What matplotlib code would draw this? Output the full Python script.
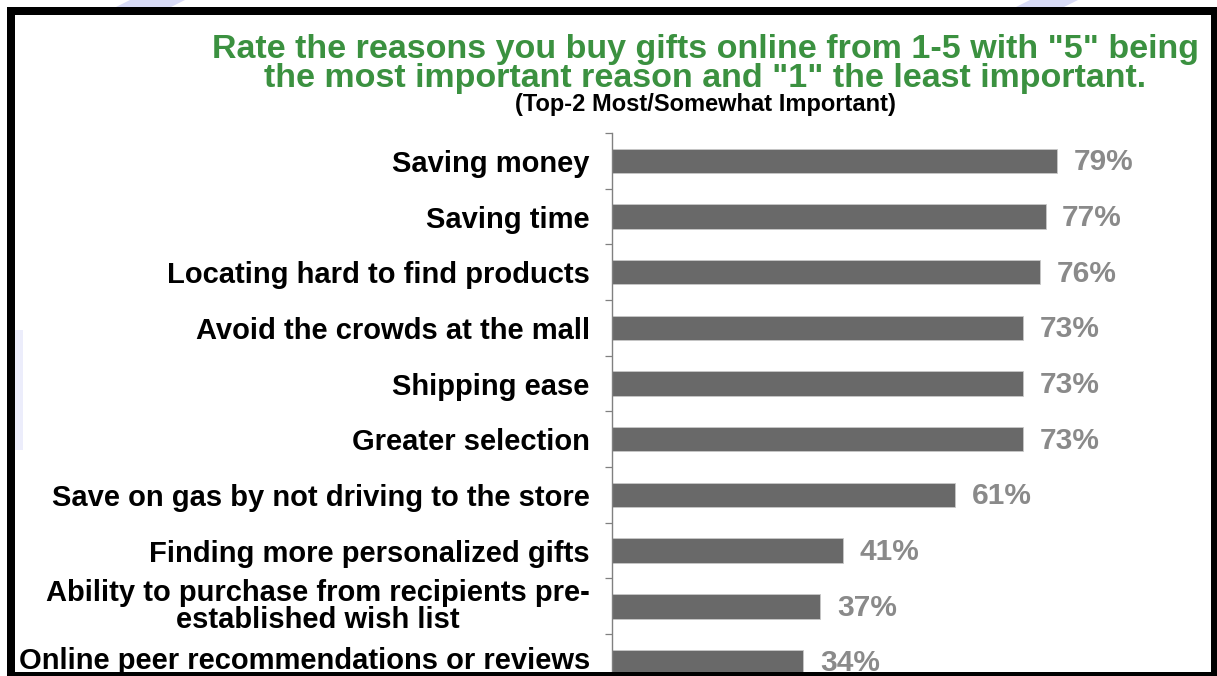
import matplotlib.pyplot as plt
from matplotlib.patches import Rectangle, Polygon

# ---- data ----
reasons = [
    "Saving money",
    "Saving time",
    "Locating hard to find products",
    "Avoid the crowds at the mall",
    "Shipping ease",
    "Greater selection",
    "Save on gas by not driving to the store",
    "Finding more personalized gifts",
    "Ability to purchase from recipients pre-\nestablished wish list",
    "Online peer recommendations or reviews",
]
shares = [79, 77, 76, 73, 73, 73, 61, 41, 37, 34]

TITLE = 'Rate the reasons you buy gifts online from 1-5 with "5" being\nthe most important reason and "1" the least important.'
SUBTITLE = "(Top-2 Most/Somewhat Important)"

W, H = 1217, 676
BAR_COLOR = "#696969"
VALUE_COLOR = "#8a8a8a"
GREEN = "#3b9140"
FONT = ["Liberation Sans", "DejaVu Sans"]
LABEL_SIZE = 21

plt.rcParams["font.family"] = FONT

fig = plt.figure(figsize=(W / 100, H / 100), dpi=100)
fig.patch.set_facecolor("white")

# black frame around the slide, drawn above the chart so it clips the bottom row
for x, y, w, h in [(7, H - 15, W - 7, 8),      # top
                   (7, 0, 8, H - 7),           # left
                   (1211, 0, W - 1211, H - 7), # right
                   (7, 0, W - 7, 4)]:          # bottom
    fig.patches.append(Rectangle((x, y), w, h, transform=None,
                                 facecolor="black", edgecolor="none", zorder=10))
# faint blue glare strips above the frame
for x0, x1 in [(130, 185), (1030, 1078)]:
    fig.patches.append(Polygon([(x0, H), (x1, H), (x1 - 14, H - 7), (x0 - 14, H - 7)],
                               closed=True, transform=None,
                               facecolor="#d9dcf7", edgecolor="none", zorder=-8))
fig.patches.append(Rectangle((15, 676 - 450), 8, 120, transform=None,
                             facecolor="#ecedfb", edgecolor="none", zorder=-8))

# axes: spine at x=612, top at y=133, bottom at y=672 (pixels from top)
left, right = 612 / W, 1205 / W
bottom, top = (H - 672) / H, (H - 133) / H
ax = fig.add_axes([left, bottom, right - left, top - bottom])
ax.set_facecolor("none")

ypos = list(range(len(reasons)))
ax.barh(ypos, shares, height=0.44, color=BAR_COLOR, edgecolor="#c8c8c8", linewidth=0.6)

for y, v in zip(ypos, shares):
    ax.annotate(f"{v}%", xy=(v, y), xytext=(12, -1), textcoords="offset points",
                ha="left", va="center", fontsize=21.5, fontweight="bold",
                color=VALUE_COLOR, annotation_clip=False)

# the bottom row sits against the frame, so its label is placed by hand a bit higher
ax.set_yticks(ypos)
ax.set_yticklabels(reasons[:-1] + [""], fontsize=LABEL_SIZE, fontweight="bold",
                   color="black", multialignment="center", linespacing=0.95)
for lab in ax.get_yticklabels():
    if "\n" in lab.get_text():
        lab.set_va("center")
ax.annotate(reasons[-1], xy=(0, ypos[-1]), xytext=(-16, 3), textcoords="offset points",
            ha="right", va="center_baseline", fontsize=LABEL_SIZE, fontweight="bold",
            color="black", annotation_clip=False)

ax.tick_params(axis="y", which="major", length=0, pad=16)
ax.set_yticks([i - 0.5 for i in range(len(reasons))], minor=True)
ax.tick_params(axis="y", which="minor", length=5, width=0.9, color="#808080", left=True)
ax.set_xticks([])

# limits last, so the tick setters cannot widen them
px_per_pct = 5.63
ax.set_xlim(0, (1205 - 612) / px_per_pct)
ax.set_ylim(9.18, -0.5)

for s in ["top", "right", "bottom"]:
    ax.spines[s].set_visible(False)
ax.spines["left"].set_color("#808080")
ax.spines["left"].set_linewidth(1.0)

fig.text(705 / W, 1 - 64 / H, TITLE, ha="center", va="center", fontsize=24.5,
         fontweight="bold", color=GREEN, linespacing=0.95)
fig.text(705 / W, 1 - 105 / H, SUBTITLE, ha="center", va="center", fontsize=17,
         fontweight="bold", color="black")

fig.savefig("out.png", dpi=100)
